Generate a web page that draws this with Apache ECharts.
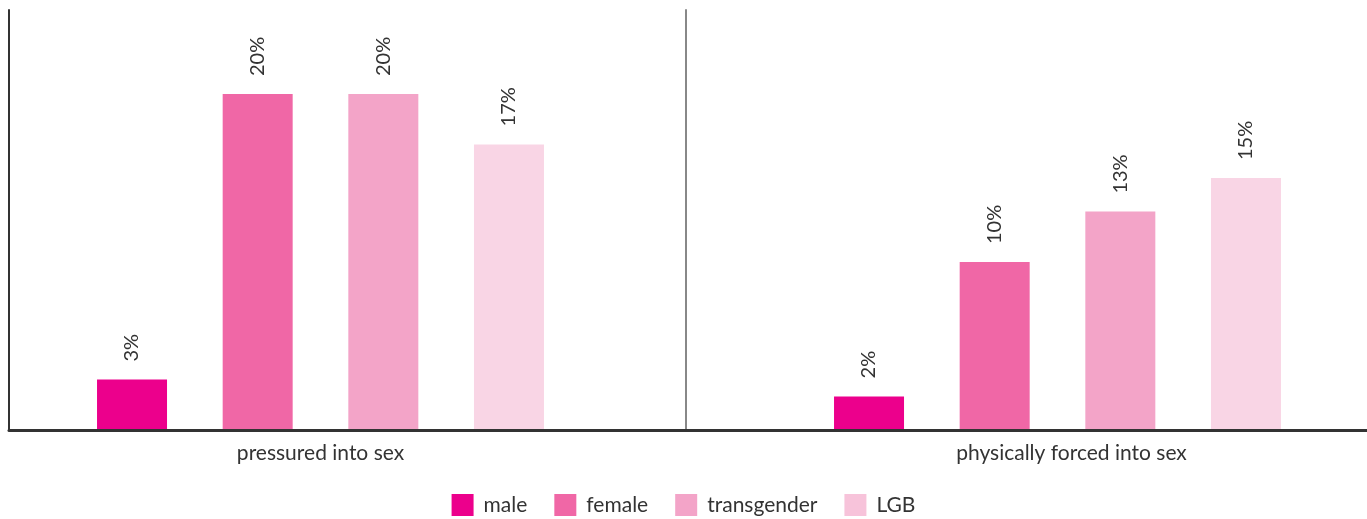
<!DOCTYPE html>
<html>
<head>
<meta charset="utf-8">
<script src="https://cdn.jsdelivr.net/npm/echarts@6/dist/echarts.min.js"></script>
<style>
  html, body { margin: 0; padding: 0; background: #fff; }
  #main { width: 1367px; height: 519px; }
</style>
</head>
<body>
<div id="main"></div>
<script>
var categories = ['pressured into sex', 'physically forced into sex'];
var groups = ['male', 'female', 'transgender', 'LGB'];
var male = [3, 2];
var female = [20, 10];
var transgender = [20, 13];
var lgb = [17, 15];
var values = [male, female, transgender, lgb];
var colors = ['#ec008c', '#f067a6', '#f3a4c8', '#f9d5e5'];
var legendColors = ['#ec008c', '#f067a6', '#f3a4c8', '#f7c3da'];

var font = 'Lato';
var series = [];
for (var c = 0; c < categories.length; c++) {
    for (var i = 0; i < groups.length; i++) {
        series.push({
            name: groups[i],
            type: 'bar',
            xAxisIndex: c + 2,
            yAxisIndex: c + 2,
            barWidth: 70,
            barGap: '79.5%',
            itemStyle: { color: colors[i] },
            label: {
                show: true,
                position: 'top',
                rotate: 90,
                align: 'left',
                verticalAlign: 'middle',
                distance: 18,
                color: '#333',
                fontSize: 20,
                fontFamily: font,
                formatter: '{c}%'
            },
            data: [values[i][c]]
        });
    }
}

var legendData = groups.map(function (g, i) {
    return { name: g, itemStyle: { color: legendColors[i] } };
});

var myChart = echarts.init(document.getElementById('main'));
myChart.setOption({
    animation: false,
    legend: {
        top: 489,
        left: 'center',
        icon: 'rect',
        itemWidth: 22,
        itemHeight: 22,
        itemGap: 27,
        textStyle: { color: '#333', fontSize: 21, fontFamily: font, padding: [0, 0, 0, 5] },
        data: legendData
    },
    grid: [
        { left: 9, right: 0, top: 10, bottom: 89 },
        { left: 686, right: 0, top: 10, bottom: 89 },
        { left: 9, width: 623, top: 10, bottom: 89 },
        { left: 750, width: 615, top: 10, bottom: 89 }
    ],
    xAxis: [
        { gridIndex: 0, type: 'category', data: ['', ''], axisTick: { show: false }, axisLabel: { show: false },
          axisLine: { lineStyle: { color: '#333', width: 3 } }, z: 5 },
        { gridIndex: 1, type: 'category', data: [''], show: false },
        { gridIndex: 2, type: 'category', data: [categories[0]], axisLine: { show: false }, axisTick: { show: false },
          axisLabel: { color: '#333', fontSize: 21, fontFamily: font, margin: 13 } },
        { gridIndex: 3, type: 'category', data: [categories[1]], axisLine: { show: false }, axisTick: { show: false },
          axisLabel: { color: '#333', fontSize: 21, fontFamily: font, margin: 13, padding: [0, 0, 0, 28] } }
    ],
    yAxis: [
        { gridIndex: 0, type: 'value', min: 0, max: 25, axisLabel: { show: false }, splitLine: { show: false },
          axisLine: { show: true, lineStyle: { color: '#333', width: 2 } } },
        { gridIndex: 1, type: 'value', min: 0, max: 25, axisLabel: { show: false }, splitLine: { show: false },
          axisLine: { show: true, lineStyle: { color: '#888', width: 2 } } },
        { gridIndex: 2, type: 'value', min: 0, max: 25, show: false },
        { gridIndex: 3, type: 'value', min: 0, max: 25, show: false }
    ],
    series: series
});
</script>
</body>
</html>
